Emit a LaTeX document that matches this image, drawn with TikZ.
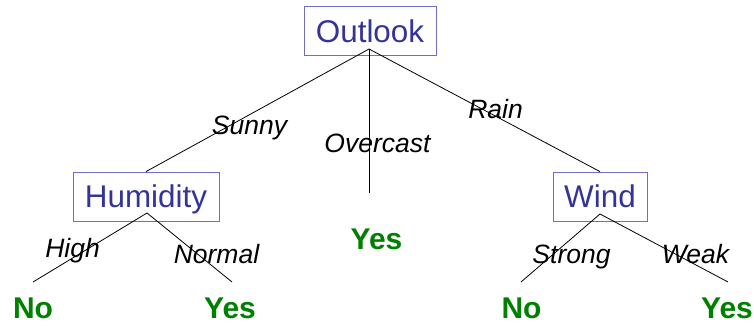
\documentclass[tikz,border=0pt]{standalone}
\usepackage{fontspec}
\setmainfont{Liberation Sans}
\definecolor{boxtext}{RGB}{51,51,153}
\definecolor{boxline}{RGB}{110,110,200}
\definecolor{leafgreen}{RGB}{0,128,0}
\begin{document}
\begin{tikzpicture}[x=1pt,y=-1pt,
  attr/.style={draw=boxline,line width=0.8pt,rectangle,inner sep=0pt,text=boxtext,
    font=\fontsize{31.4}{31.4}\selectfont,minimum height=49pt,text depth=0pt},
  lab/.style={anchor=base,inner sep=0pt,font=\fontsize{26.5}{26.5}\selectfont\itshape},
  leaf/.style={anchor=base,inner sep=0pt,text=leafgreen,font=\fontsize{30}{30}\selectfont\bfseries},
  edge/.style={line width=0.8pt,black}]
\useasboundingbox (0,0) rectangle (754,326);
% boxes
\node[attr,minimum width=132pt,text height=25pt] (outlook) at (370,30.5) {Outlook};
\node[attr,minimum width=146pt,text height=21pt] (humidity) at (146,196.5) {Humidity};
\node[attr,minimum width=94pt,text height=21pt] (wind) at (600,196.5) {Wind};
% connector points
\coordinate (oc) at (369,49);
\coordinate (ovend) at (369,193);
\coordinate (hc) at (147,213);
\coordinate (hhigh) at (33,282);
\coordinate (hnorm) at (232,282);
\coordinate (wc) at (600,214);
\coordinate (wstrong) at (521,282);
\coordinate (wweak) at (728,282);
% connectors
\draw[edge] (oc) -- (humidity.north);
\draw[edge] (oc) -- (ovend);
\draw[edge] (oc) -- (wind.north);
\draw[edge] (hc) -- (hhigh);
\draw[edge] (hc) -- (hnorm);
\draw[edge] (wc) -- (wstrong);
\draw[edge] (wc) -- (wweak);
% labels
\node[lab] (sunny) at (249.5,134) {Sunny};
\node[lab] (overcast) at (377.5,152) {Overcast};
\node[lab] (rain) at (495.5,118) {Rain};
\node[lab] (high) at (72.5,257) {High};
\node[lab] (normal) at (216.5,263) {Normal};
\node[lab] (strong) at (571.5,263) {Strong};
\node[lab] (weak) at (695.5,263) {Weak};
% leaves
\node[leaf] (no1) at (33,318) {No};
\node[leaf] (yes1) at (230,318) {Yes};
\node[leaf] (yes2) at (376.5,249) {Yes};
\node[leaf] (no2) at (521.5,318) {No};
\node[leaf] (yes3) at (727,318) {Yes};
\end{tikzpicture}
\end{document}
